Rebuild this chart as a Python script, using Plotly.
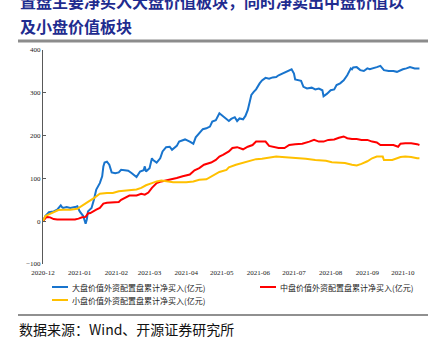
import plotly.graph_objects as go

# ---------------- data ----------------
large_dates = ["2020-12-01","2020-12-03","2020-12-06","2020-12-10","2020-12-13","2020-12-16","2020-12-17","2020-12-18",
    "2020-12-21","2020-12-24","2020-12-28","2020-12-30","2021-01-01","2021-01-04","2021-01-06","2021-01-07","2021-01-08",
    "2021-01-11","2021-01-13","2021-01-15","2021-01-18","2021-01-20","2021-01-21","2021-01-22","2021-01-24","2021-01-26",
    "2021-01-28","2021-01-31","2021-02-03","2021-02-05","2021-02-08","2021-02-11","2021-02-14","2021-02-18","2021-02-21",
    "2021-02-24","2021-02-25","2021-02-26","2021-03-01","2021-03-03","2021-03-04","2021-03-07","2021-03-10","2021-03-12",
    "2021-03-15","2021-03-18","2021-03-20","2021-03-24","2021-03-26","2021-03-29","2021-03-31","2021-04-04","2021-04-07",
    "2021-04-09","2021-04-12","2021-04-15","2021-04-18","2021-04-21","2021-04-23","2021-04-26","2021-04-29","2021-05-01",
    "2021-05-05","2021-05-07","2021-05-09","2021-05-12","2021-05-14","2021-05-16","2021-05-19","2021-05-21","2021-05-23",
    "2021-05-26","2021-05-28","2021-05-30","2021-06-02","2021-06-04","2021-06-07","2021-06-10","2021-06-13","2021-06-16",
    "2021-06-18","2021-06-21","2021-06-24","2021-06-27","2021-06-29","2021-07-01","2021-07-02","2021-07-07","2021-07-09",
    "2021-07-12","2021-07-16","2021-07-19","2021-07-22","2021-07-25","2021-07-26","2021-07-29","2021-08-01","2021-08-04",
    "2021-08-06","2021-08-09","2021-08-12","2021-08-15","2021-08-18","2021-08-19","2021-08-20","2021-08-23","2021-08-26",
    "2021-08-29","2021-09-01","2021-09-03","2021-09-06","2021-09-09","2021-09-12","2021-09-15","2021-09-19","2021-09-23",
    "2021-09-26","2021-09-29","2021-10-01","2021-10-04","2021-10-07","2021-10-11","2021-10-15"]
large_values = [0,12,21,23,27,37,33,31,33,31,33,35,23,12,-6,4,23,31,50,74,89,105,128,137,139,132,114,112,114,120,119,118,
    112,103,116,119,128,116,124,147,143,137,147,163,173,174,167,176,186,190,191,186,181,196,205,215,217,221,233,236,252,
    248,240,234,239,243,234,240,238,246,260,295,302,308,322,329,335,333,336,337,341,345,349,354,355,345,331,328,314,310,
    312,308,310,306,292,298,306,308,318,322,329,341,357,355,359,360,353,351,357,355,357,360,363,353,351,351,349,353,355,
    357,360,357,357]

mid_dates = ["2020-12-01","2020-12-04","2020-12-07","2020-12-10","2020-12-13","2020-12-18","2020-12-24","2020-12-28",
    "2020-12-31","2021-01-03","2021-01-06","2021-01-08","2021-01-10","2021-01-13","2021-01-15","2021-01-18","2021-01-21",
    "2021-01-24","2021-01-29","2021-02-03","2021-02-05","2021-02-10","2021-02-12","2021-02-18","2021-02-22","2021-02-25",
    "2021-02-28","2021-03-03","2021-03-07","2021-03-11","2021-03-15","2021-03-18","2021-03-24","2021-03-29","2021-04-04",
    "2021-04-08","2021-04-12","2021-04-16","2021-04-22","2021-04-26","2021-04-29","2021-05-02","2021-05-07","2021-05-10",
    "2021-05-14","2021-05-19","2021-05-23","2021-05-27","2021-05-30","2021-06-03","2021-06-07","2021-06-10","2021-06-14",
    "2021-06-18","2021-06-23","2021-06-27","2021-07-02","2021-07-08","2021-07-14","2021-07-18","2021-07-22","2021-07-26",
    "2021-07-30","2021-08-04","2021-08-08","2021-08-12","2021-08-15","2021-08-19","2021-08-23","2021-08-27","2021-09-01",
    "2021-09-05","2021-09-09","2021-09-12","2021-09-17","2021-09-23","2021-09-27","2021-09-29","2021-10-03","2021-10-08",
    "2021-10-13","2021-10-15"]
mid_values = [0,10,9,5,4,4,4,4,6,9,10,18,19,25,27,31,41,43,44,45,50,58,60,60,64,62,67,78,89,93,95,97,101,105,109,119,
    124,132,137,143,151,155,163,171,173,168,174,178,186,186,186,176,174,171,171,178,180,181,186,190,186,186,190,191,195,
    198,194,192,192,190,190,186,184,178,178,178,174,181,182,182,180,178]

small_dates = ["2020-12-01","2020-12-03","2020-12-06","2020-12-10","2020-12-14","2020-12-18","2020-12-24","2020-12-30",
    "2021-01-01","2021-01-06","2021-01-08","2021-01-13","2021-01-15","2021-01-18","2021-01-24","2021-01-29","2021-02-03",
    "2021-02-07","2021-02-12","2021-02-18","2021-02-22","2021-02-26","2021-03-03","2021-03-07","2021-03-11","2021-03-15",
    "2021-03-21","2021-03-26","2021-04-01","2021-04-07","2021-04-12","2021-04-18","2021-04-23","2021-04-29","2021-05-05",
    "2021-05-07","2021-05-13","2021-05-19","2021-05-24","2021-05-30","2021-06-04","2021-06-10","2021-06-16","2021-06-21",
    "2021-06-27","2021-07-02","2021-07-11","2021-07-19","2021-07-28","2021-08-02","2021-08-08","2021-08-13","2021-08-19",
    "2021-08-23","2021-08-27","2021-09-01","2021-09-05","2021-09-09","2021-09-14","2021-09-15","2021-09-22","2021-09-26",
    "2021-09-29","2021-10-03","2021-10-08","2021-10-13","2021-10-15"]
small_values = [0,12,16,21,26,27,27,29,33,41,45,54,58,64,66,66,70,71,72,74,78,84,89,93,95,93,91,91,91,93,97,98,105,115,
    120,126,132,136,141,145,146,149,151,150,149,148,146,143,141,138,136,136,132,130,134,140,147,151,151,143,143,146,150,
    151,150,147,147]

series_names = ["大盘价值外资配置盘累计净买入(亿元)", "中盘价值外资配置盘累计净买入(亿元)", "小盘价值外资配置盘累计净买入(亿元)"]
series_colors = ["#1874CD", "#FF0000", "#FFC000"]
y_ticks = [-100, 0, 100, 200, 300, 400]

title_line1 = "置盘主要净买入大盘价值板块，同时净卖出中盘价值以"
title_line2 = "及小盘价值板块"
source_text = "数据来源：Wind、开源证券研究所"

# ---------------- layout geometry (pixels) ----------------
W, H = 442, 351
L, R, T, B = 43, 19, 50, 87
PW, PH = W - L - R, H - T - B

def px(X):
    return (X - L) / PW

def py(Y):
    return 1 + (T - Y) / PH

fig = go.Figure()
for d, v, n, c in zip([large_dates, mid_dates, small_dates],
                      [large_values, mid_values, small_values],
                      series_names, series_colors):
    fig.add_trace(go.Scatter(x=d, y=v, name=n, mode="lines",
                             line=dict(color=c, width=2), showlegend=False))

axis_font = dict(family="Liberation Serif", size=7, color="#222")
fig.update_layout(
    width=W, height=H,
    margin=dict(l=L, r=R, t=T, b=B, pad=0),
    paper_bgcolor="white", plot_bgcolor="white",
    xaxis=dict(type="date", range=["2020-12-01", "2021-10-18"], tick0="2020-12-01", dtick="M1",
               tickformat="%Y-%m", showline=False, ticks="", showgrid=False, zeroline=False,
               tickfont=axis_font, ticklabelstandoff=3),
    xaxis2=dict(type="date", range=["2020-12-01", "2021-10-18"], tick0="2020-12-01", dtick="M1",
                overlaying="x", anchor="free", position=100 / 500, showline=True, linecolor="#595959",
                linewidth=1, ticks="inside", ticklen=4, tickcolor="#595959", showticklabels=False,
                showgrid=False, zeroline=False),
    yaxis=dict(range=[-100, 400], tickvals=y_ticks, showline=True, linecolor="#595959", linewidth=1,
               ticks="inside", ticklen=3, tickcolor="#595959", showgrid=False, zeroline=False,
               tickfont=axis_font),
)

# title
title_font = dict(family="Noto Sans CJK SC", size=16, color="#1F2C8F")
fig.add_annotation(text="<b>" + title_line1 + "</b>", xref="paper", yref="paper", x=px(18), y=py(1),
                   xanchor="left", yanchor="middle", showarrow=False, font=title_font)
fig.add_annotation(text="<b>" + title_line2 + "</b>", xref="paper", yref="paper", x=px(18), y=py(26),
                   xanchor="left", yanchor="middle", showarrow=False, font=title_font)
fig.add_shape(type="line", xref="paper", yref="paper", x0=px(18), x1=px(428), y0=py(41), y1=py(41),
              line=dict(color="#8C8C8C", width=3))

# legend (manual)
legend_pos = [(52, 287), (260, 287), (52, 300)]
for (lx, ly), n, c in zip(legend_pos, series_names, series_colors):
    fig.add_shape(type="line", xref="paper", yref="paper", x0=px(lx), x1=px(lx + 16), y0=py(ly), y1=py(ly),
                  line=dict(color=c, width=2))
    fig.add_annotation(text=n, xref="paper", yref="paper", x=px(lx + 18), y=py(ly), xanchor="left",
                       yanchor="middle", showarrow=False,
                       font=dict(family="Noto Sans CJK SC", size=8, color="#222"))

# source
fig.add_shape(type="line", xref="paper", yref="paper", x0=px(18), x1=px(428), y0=py(315), y1=py(315),
              line=dict(color="#222", width=1.2))
fig.add_annotation(text=source_text, xref="paper", yref="paper", x=px(17), y=py(329), xanchor="left",
                   yanchor="middle", showarrow=False,
                   font=dict(family="Noto Sans CJK SC", size=14, color="#111"))

fig.write_html("out.html")
